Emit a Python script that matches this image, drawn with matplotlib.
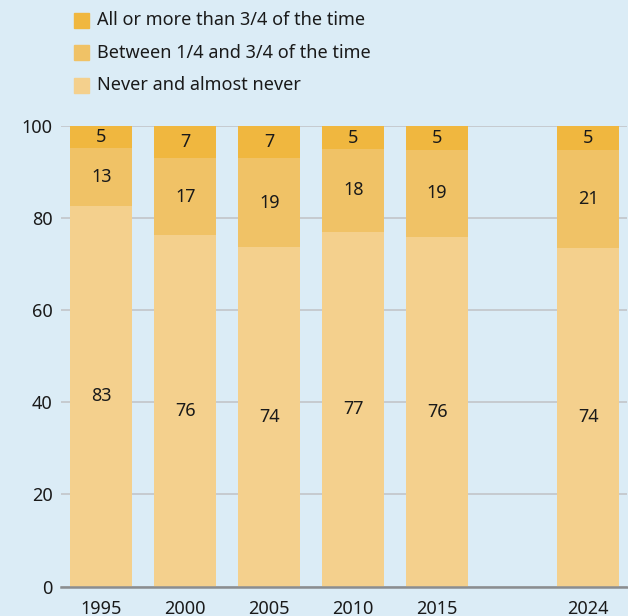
import matplotlib.pyplot as plt
from matplotlib.patches import Rectangle

plt.rcParams['font.family'] = ['Noto Sans', 'DejaVu Sans']

years = [1995, 2000, 2005, 2010, 2015, 2024]
never = [82.6, 76.3, 73.7, 77.0, 75.9, 73.5]
between = [12.6, 16.7, 19.3, 18.0, 18.9, 21.3]
always = [4.8, 7.0, 7.0, 5.0, 5.2, 5.2]
never_labels = [83, 76, 74, 77, 76, 74]
between_labels = [13, 17, 19, 18, 19, 21]
always_labels = [5, 7, 7, 5, 5, 5]
series_names = ["Never and almost never", "Between 1/4 and 3/4 of the time",
                "All or more than 3/4 of the time"]

bg = "#DBECF6"
colors = ["#F4D08D", "#F0C266", "#F0B73F"]
W, H = 628, 616

fig = plt.figure(figsize=(W / 100, H / 100), dpi=100, facecolor=bg)
ax = fig.add_axes([61 / W, 29.5 / H, 566 / W, 460.5 / H])
ax.set_facecolor(bg)

width = 3.69
bottom = [0] * len(years)
for vals, labs, col, name in zip([never, between, always],
                                 [never_labels, between_labels, always_labels],
                                 colors, series_names):
    ax.bar(years, vals, width=width, bottom=bottom, color=col,
           label=name, zorder=2)
    for x, b, v, l in zip(years, bottom, vals, labs):
        ax.text(x, b + v / 2, str(l), ha="center", va="center",
                fontsize=13, color="#1a1a1a", zorder=3)
    bottom = [b + v for b, v in zip(bottom, vals)]

ax.set_xlim(1992.6, 2026.3)
ax.set_ylim(0, 100)
ax.set_yticks([0, 20, 40, 60, 80, 100])
ax.set_xticks(years)
ax.grid(axis="y", color="#c4c8cc", linewidth=1.3, zorder=1)
for s in ["left", "right", "top"]:
    ax.spines[s].set_visible(False)
ax.spines["bottom"].set_color("#8a8d90")
ax.spines["bottom"].set_linewidth(1.8)
ax.spines["bottom"].set_zorder(4)
ax.tick_params(axis="y", length=0, pad=6, labelsize=13, labelcolor="#1a1a1a")
ax.tick_params(axis="x", length=0, pad=10, labelsize=13, labelcolor="#1a1a1a")

# legend, top series first
for i, (name, col) in enumerate(zip(series_names[::-1], colors[::-1])):
    yc = 20 + i * 32.5
    fig.patches.append(Rectangle((74 / W, 1 - (yc + 7.5) / H), 15 / W, 15 / H,
                                 transform=fig.transFigure, color=col))
    fig.text(97 / W, 1 - yc / H, name, ha="left", va="center",
             fontsize=13, color="#1a1a1a")

fig.savefig("out.png", dpi=100, facecolor=bg)
